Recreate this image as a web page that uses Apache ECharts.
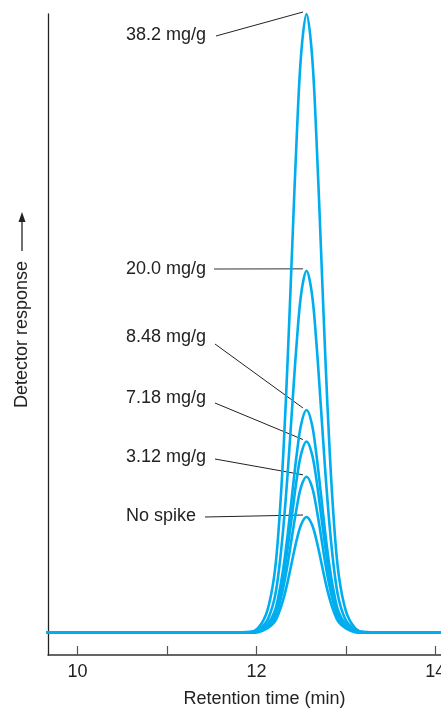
<!DOCTYPE html>
<html>
<head>
<meta charset="utf-8">
<script src="https://cdn.jsdelivr.net/npm/echarts@6/dist/echarts.min.js"></script>
<style>
  html, body { margin: 0; padding: 0; background: #fff; }
  #main { width: 441px; height: 711px; }
</style>
</head>
<body>
<div id="main"></div>
<script>
// retention time (min)
const times = [9.6, 11.5, 11.92, 12.02, 12.12, 12.2, 12.25, 12.3, 12.35, 12.4, 12.45, 12.5, 12.56,
  12.62, 12.67, 12.72, 12.77, 12.82, 12.87, 12.92, 13.0, 13.1, 13.2, 13.6, 14.6];

// detector response (tallest peak = 100)
const spike382 = [0, 0, 0.1, 0.8, 3.5, 9.3, 17.1, 28.9, 44.5, 62.5, 80.1, 93.6, 100, 93.6, 80.1, 62.5, 44.5, 28.9, 17.1, 9.3, 3.5, 0.8, 0.1, 0, 0];
const spike200 = [0, 0, 0.1, 0.5, 2.0, 5.4, 10.0, 16.9, 26.0, 36.6, 46.9, 54.8, 58.5, 54.8, 46.9, 36.6, 26.0, 16.9, 10.0, 5.4, 2.0, 0.5, 0.1, 0, 0];
const spike848 = [0, 0, 0, 0.3, 1.3, 3.3, 6.2, 10.4, 16.0, 22.5, 28.8, 33.7, 36.0, 33.7, 28.8, 22.5, 16.0, 10.4, 6.2, 3.3, 1.3, 0.3, 0, 0, 0];
const spike718 = [0, 0, 0, 0.2, 1.1, 2.9, 5.3, 8.9, 13.8, 19.3, 24.8, 28.9, 30.9, 28.9, 24.8, 19.3, 13.8, 8.9, 5.3, 2.9, 1.1, 0.2, 0, 0, 0];
const spike312 = [0, 0, 0, 0.2, 0.9, 2.3, 4.3, 7.3, 11.2, 15.8, 20.2, 23.6, 25.2, 23.6, 20.2, 15.8, 11.2, 7.3, 4.3, 2.3, 0.9, 0.2, 0, 0, 0];
const noSpike  = [0, 0, 0, 0.1, 0.7, 1.7, 3.2, 5.4, 8.3, 11.7, 15.0, 17.5, 18.7, 17.5, 15.0, 11.7, 8.3, 5.4, 3.2, 1.7, 0.7, 0.1, 0, 0, 0];

const seriesNames = ['38.2 mg/g', '20.0 mg/g', '8.48 mg/g', '7.18 mg/g', '3.12 mg/g', 'No spike'];
const seriesValues = [spike382, spike200, spike848, spike718, spike312, noSpike];

const xTicks = [10, 11, 12, 13, 14];
const xLabels = [10, 12, 14];
const leaderTime = 12.52;

// where each annotation text sits (pixels) and where its leader starts
const labelLayout = [
  { x: 126, y: 36, lx: 216, ly: 36, color: '#222', w: 1 },
  { x: 126, y: 270, lx: 214, ly: 269, color: '#777', w: 1.5 },
  { x: 126, y: 338, lx: 215, ly: 344, color: '#222', w: 1 },
  { x: 126, y: 399, lx: 215, ly: 403, color: '#222', w: 1 },
  { x: 126, y: 458, lx: 215, ly: 459, color: '#222', w: 1 },
  { x: 126, y: 517, lx: 205, ly: 517, color: '#222', w: 1 }
];

const font = 'Liberation Sans, Arial, Helvetica, sans-serif';
const chart = echarts.init(document.getElementById('main'));

chart.setOption({
  animation: false,
  // the plot runs past the right edge of the picture
  grid: { left: 48, top: 14, width: 433, height: 641, outerBoundsMode: 'none' },
  xAxis: {
    type: 'value',
    min: 9.67,
    max: 14.51,
    name: 'Retention time (min)',
    nameLocation: 'middle',
    nameGap: 35,
    nameTextStyle: { fontFamily: font, fontSize: 18, color: '#222' },
    axisLine: { onZero: false, lineStyle: { color: '#333', width: 1.5 } },
    axisTick: { inside: true, length: 9, customValues: xTicks, lineStyle: { color: '#555', width: 1.2 } },
    axisLabel: { customValues: xLabels, margin: 8, fontFamily: font, fontSize: 18, color: '#222' },
    splitLine: { show: false }
  },
  yAxis: {
    type: 'value',
    min: -3.6,
    max: 100,
    name: 'Detector response',
    nameLocation: 'middle',
    nameRotate: 90,
    nameGap: 17,
    nameTextStyle: { fontFamily: font, fontSize: 18, color: '#222' },
    axisLine: { show: true, onZero: false, lineStyle: { color: '#222', width: 1.3 } },
    axisTick: { show: false },
    axisLabel: { show: false },
    splitLine: { show: false }
  },
  series: seriesValues.map((vals, i) => ({
    name: seriesNames[i],
    type: 'line',
    data: times.map((t, j) => [t, vals[j]]),
    showSymbol: false,
    smooth: 0.35,
    clip: false,
    lineStyle: { color: '#00ADEE', width: 2.6 }
  }))
});

// annotations: text plus a leader line to the top of each peak
const elements = [];
seriesNames.forEach((name, i) => {
  const spot = labelLayout[i];
  const peak = Math.max.apply(null, seriesValues[i]);
  const end = chart.convertToPixel({ xAxisIndex: 0, yAxisIndex: 0 }, [leaderTime, peak]);
  elements.push({
    type: 'text', left: spot.x, top: spot.y - 10,
    style: { text: name, fontFamily: font, fontSize: 18, fill: '#222' }
  });
  elements.push({
    type: 'line',
    shape: { x1: spot.lx, y1: spot.ly, x2: end[0], y2: end[1] - 2 },
    style: { stroke: spot.color, lineWidth: spot.w }
  });
});
// arrow next to the y-axis name
elements.push({ type: 'line', shape: { x1: 22, y1: 251, x2: 22, y2: 220 }, style: { stroke: '#222', lineWidth: 1.3 } });
elements.push({ type: 'polygon', shape: { points: [[22, 212], [18.5, 222], [25.5, 222]] }, style: { fill: '#222' } });

chart.setOption({ graphic: elements });
</script>
</body>
</html>
